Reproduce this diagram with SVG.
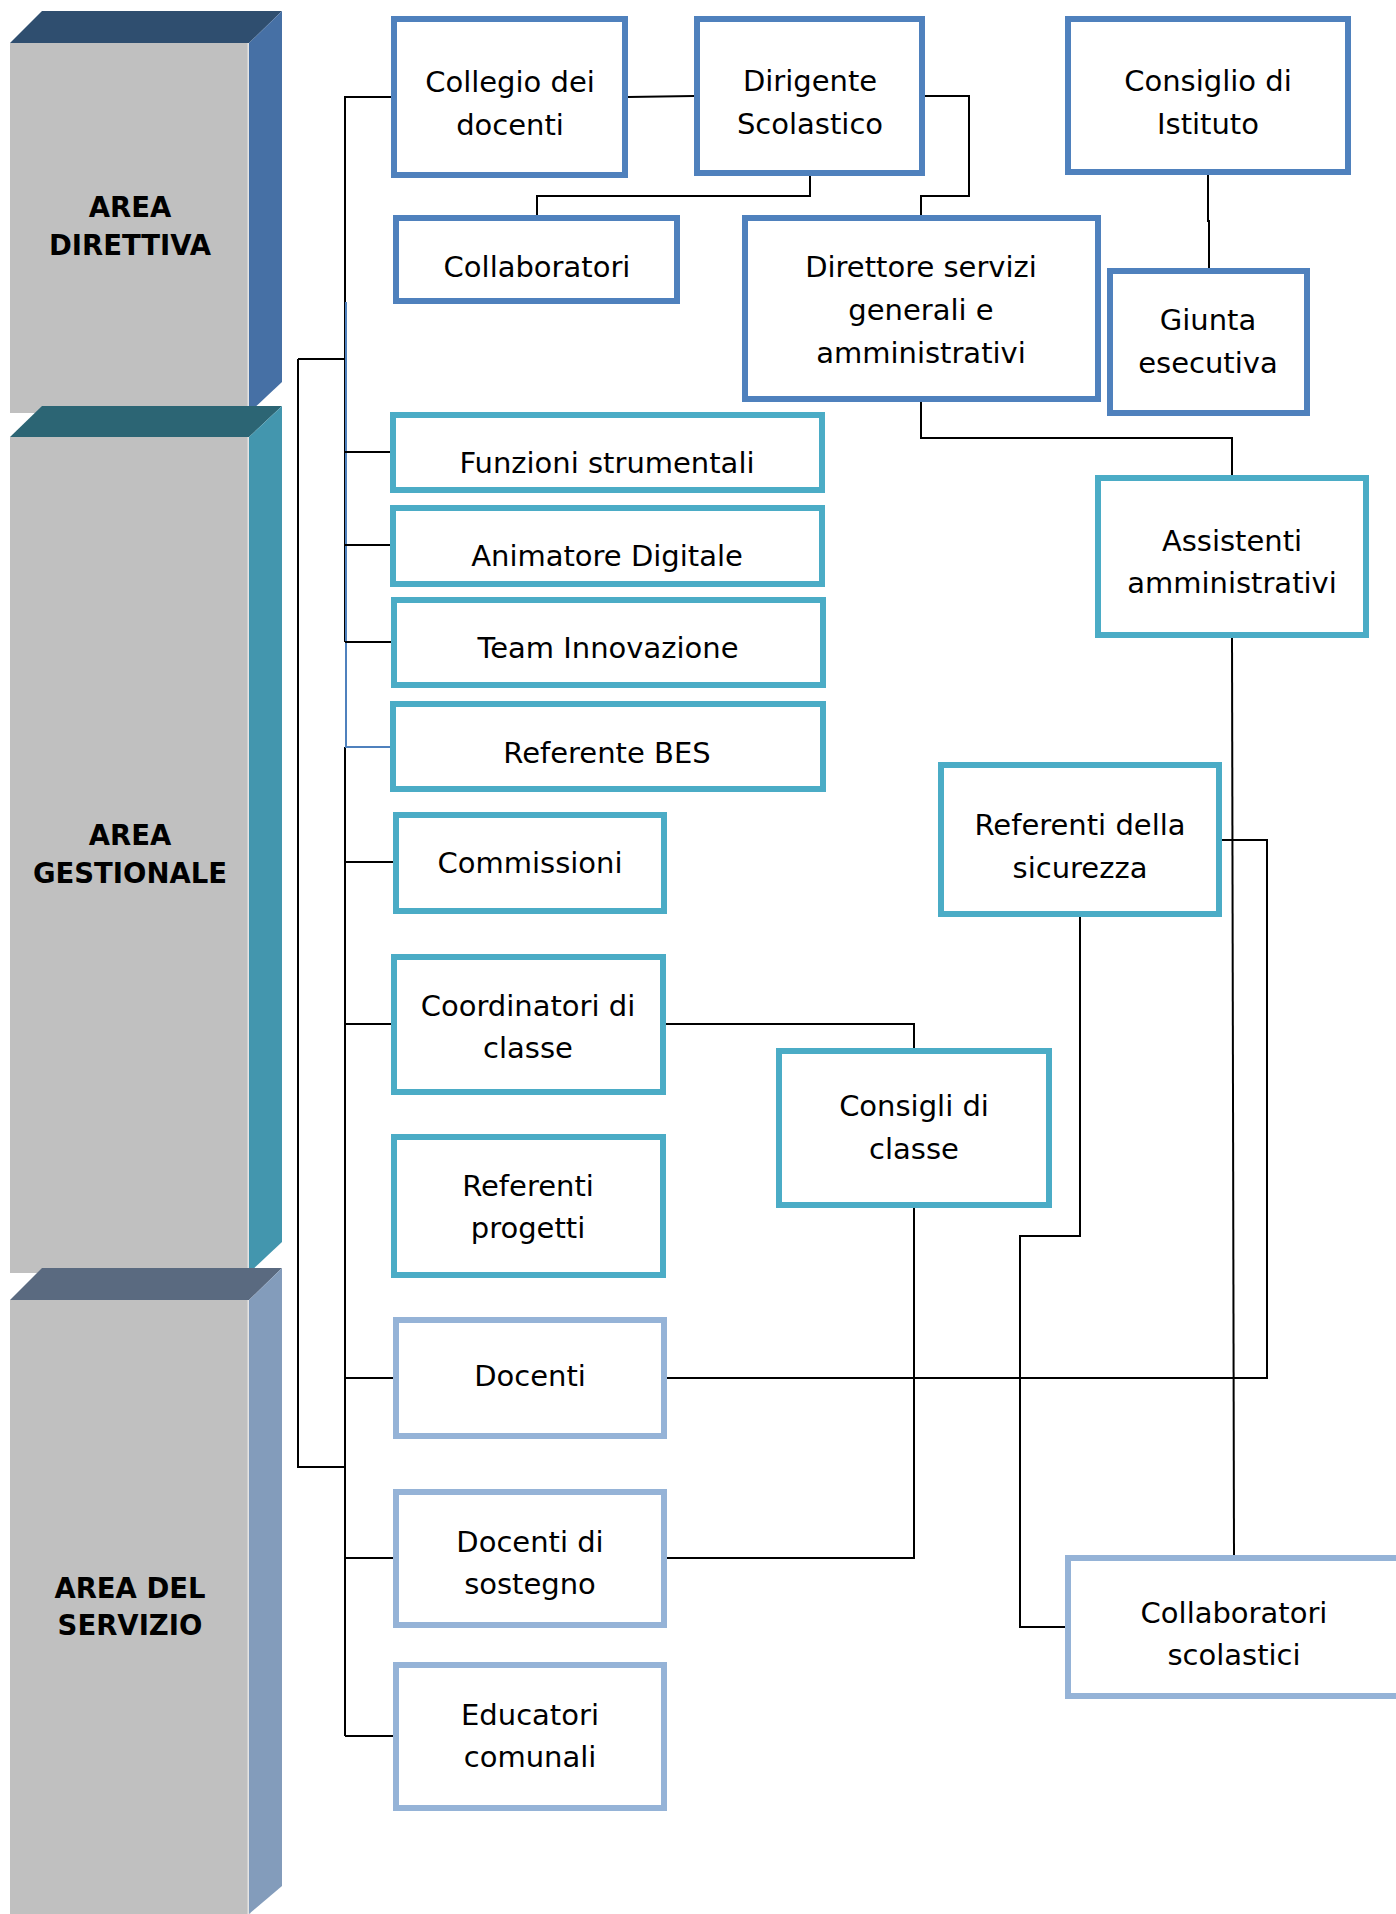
<svg xmlns="http://www.w3.org/2000/svg" width="1396" height="1914" viewBox="0 0 1396 1914">
<style>
.front{fill:#C0C0C0}
.hl{stroke:#E4E4E4;stroke-width:3}
.bt{font-family:"DejaVu Sans",Verdana,sans-serif;font-weight:bold;font-size:27.5px;fill:#000;text-anchor:middle}
.n rect{fill:#fff;stroke-width:6}
.b1 rect{stroke:#4F81BD}
.b2 rect{stroke:#4BACC6}
.b3 rect{stroke:#95B3D7}
.n text{font-family:"DejaVu Sans",Verdana,sans-serif;font-size:29px;fill:#000;text-anchor:middle}
#connectors path{fill:none;stroke:#000;stroke-width:2}
#connectors .blue{stroke:#4F81BD;stroke-width:2}
</style>
<rect width="1396" height="1914" fill="#fff"/>
<g id="bars">
  <g id="bar-direttiva">
    <rect class="front" x="10" y="43" width="239" height="370"/>
    <line class="hl" x1="249" y1="43" x2="249" y2="413"/>
    <polygon points="10,43 42,11 282,11 249,43" fill="#2F4E6F"/>
    <polygon points="249,43 282,11 282,382 249,413" fill="#4670A5"/>
    <text class="bt" x="130" y="217">AREA</text>
    <text class="bt" x="130" y="255">DIRETTIVA</text>
  </g>
  <g id="bar-gestionale">
    <rect class="front" x="10" y="437" width="239" height="836"/>
    <line class="hl" x1="249" y1="437" x2="249" y2="1273"/>
    <polygon points="10,437 42,406 282,406 249,437" fill="#2C6574"/>
    <polygon points="249,437 282,406 282,1242 249,1273" fill="#4396AE"/>
    <text class="bt" x="130" y="845">AREA</text>
    <text class="bt" x="130" y="883">GESTIONALE</text>
  </g>
  <g id="bar-servizio">
    <rect class="front" x="10" y="1300" width="239" height="614"/>
    <line class="hl" x1="249" y1="1300" x2="249" y2="1914"/>
    <polygon points="10,1300 42,1268 282,1268 249,1300" fill="#5A6A80"/>
    <polygon points="249,1300 282,1268 282,1886 249,1914" fill="#839CBB"/>
    <text class="bt" x="130" y="1598">AREA DEL</text>
    <text class="bt" x="130" y="1635">SERVIZIO</text>
  </g>
</g>
<g id="connectors">
  <path d="M298,359 H345 M298,359 V1467 H345"/>
  <path d="M391,97 H345 V642 M345,747 V1736"/>
  <path class="blue" d="M346,302 V747 H390"/>
  <path d="M345,452 H390 M345,545 H390 M345,642 H391 M345,862 H393 M345,1024 H391 M345,1378 H393 M345,1558 H393 M345,1736 H393"/>
  <path d="M628,97 L694,96"/>
  <path d="M810,176 V196 H537 V215"/>
  <path d="M925,96 H969 V196 H921 V215"/>
  <path d="M1208,175 V221 H1209 V268"/>
  <path d="M921,402 V438 H1232 V475"/>
  <path d="M1232,638 L1234,1555"/>
  <path d="M1222,840 H1267 V1378 H667"/>
  <path d="M1080,917 V1236 H1020 V1627 H1065"/>
  <path d="M666,1024 H914 V1048"/>
  <path d="M914,1208 V1558 H667"/>
</g>
<g id="nodes">
  <g id="collegio" class="n b1"><rect x="394" y="19" width="231" height="156"/><text x="510" y="92">Collegio dei</text><text x="510" y="135">docenti</text></g>
  <g id="dirigente" class="n b1"><rect x="697" y="19" width="225" height="154"/><text x="810" y="91">Dirigente</text><text x="810" y="134">Scolastico</text></g>
  <g id="consiglio-istituto" class="n b1"><rect x="1068" y="19" width="280" height="153"/><text x="1208" y="91">Consiglio di</text><text x="1208" y="134">Istituto</text></g>
  <g id="collaboratori" class="n b1"><rect x="396" y="218" width="281" height="83"/><text x="537" y="277">Collaboratori</text></g>
  <g id="direttore" class="n b1"><rect x="745" y="218" width="353" height="181"/><text x="921" y="277">Direttore servizi</text><text x="921" y="320">generali e</text><text x="921" y="363">amministrativi</text></g>
  <g id="giunta" class="n b1"><rect x="1110" y="271" width="197" height="142"/><text x="1208" y="330">Giunta</text><text x="1208" y="373">esecutiva</text></g>
  <g id="funzioni" class="n b2"><rect x="393" y="415" width="429" height="75"/><text x="607" y="473">Funzioni strumentali</text></g>
  <g id="animatore" class="n b2"><rect x="393" y="508" width="429" height="76"/><text x="607" y="566">Animatore Digitale</text></g>
  <g id="team" class="n b2"><rect x="394" y="600" width="429" height="85"/><text x="608" y="658">Team Innovazione</text></g>
  <g id="bes" class="n b2"><rect x="393" y="704" width="430" height="85"/><text x="607" y="763">Referente BES</text></g>
  <g id="commissioni" class="n b2"><rect x="396" y="815" width="268" height="96"/><text x="530" y="873">Commissioni</text></g>
  <g id="coordinatori" class="n b2"><rect x="394" y="957" width="269" height="135"/><text x="528" y="1016">Coordinatori di</text><text x="528" y="1058">classe</text></g>
  <g id="referenti-progetti" class="n b2"><rect x="394" y="1137" width="269" height="138"/><text x="528" y="1196">Referenti</text><text x="528" y="1238">progetti</text></g>
  <g id="assistenti" class="n b2"><rect x="1098" y="478" width="268" height="157"/><text x="1232" y="551">Assistenti</text><text x="1232" y="593">amministrativi</text></g>
  <g id="referenti-sicurezza" class="n b2"><rect x="941" y="765" width="278" height="149"/><text x="1080" y="835">Referenti della</text><text x="1080" y="878">sicurezza</text></g>
  <g id="consigli-classe" class="n b2"><rect x="779" y="1051" width="270" height="154"/><text x="914" y="1116">Consigli di</text><text x="914" y="1159">classe</text></g>
  <g id="docenti" class="n b3"><rect x="396" y="1320" width="268" height="116"/><text x="530" y="1386">Docenti</text></g>
  <g id="docenti-sostegno" class="n b3"><rect x="396" y="1492" width="268" height="133"/><text x="530" y="1552">Docenti di</text><text x="530" y="1594">sostegno</text></g>
  <g id="educatori" class="n b3"><rect x="396" y="1665" width="268" height="143"/><text x="530" y="1725">Educatori</text><text x="530" y="1767">comunali</text></g>
  <g id="collaboratori-scolastici" class="n b3"><rect x="1068" y="1558" width="360" height="138"/><text x="1234" y="1623">Collaboratori</text><text x="1234" y="1665">scolastici</text></g>
</g>
</svg>
